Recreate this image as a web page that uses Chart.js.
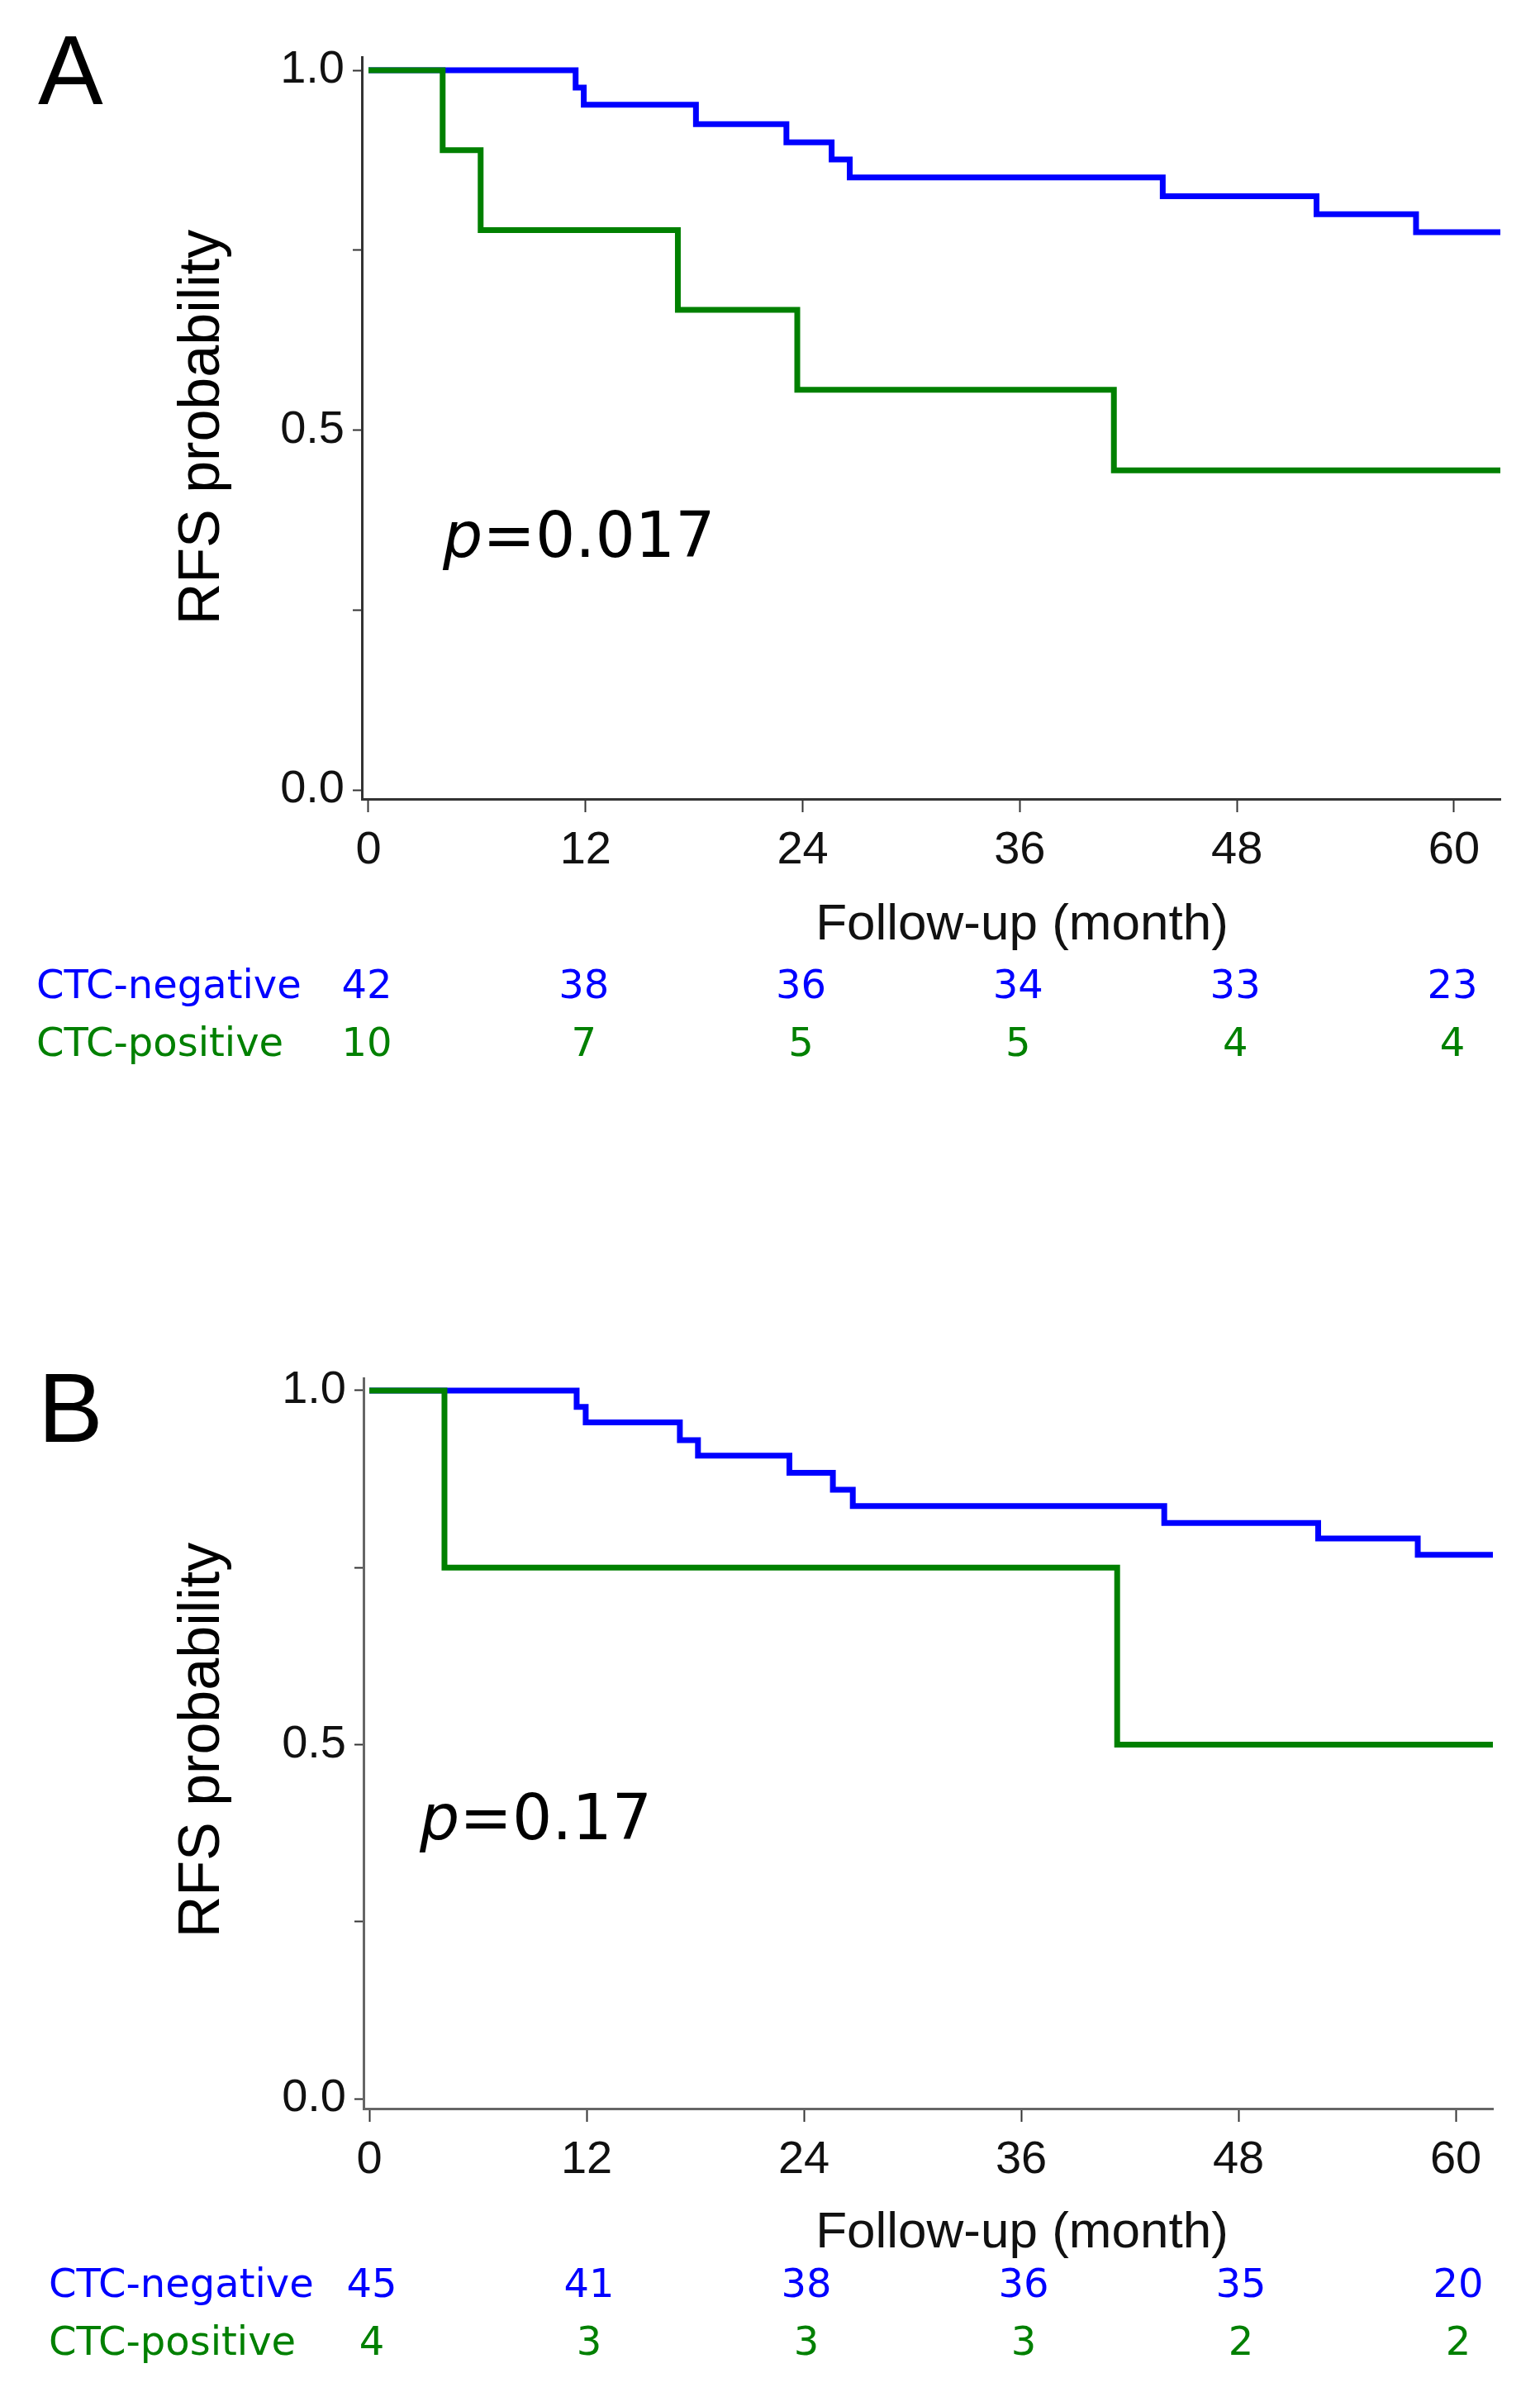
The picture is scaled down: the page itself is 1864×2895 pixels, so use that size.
<!DOCTYPE html>
<html>
<head>
<meta charset="utf-8">
<script src="https://cdn.jsdelivr.net/npm/chart.js@4.4.1/dist/chart.umd.min.js"></script>
<style>
  html, body { margin: 0; padding: 0; background: #fff; }
  #page { position: relative; width: 1864px; height: 2895px; }
  canvas { position: absolute; left: 0; }
</style>
</head>
<body>
<div id="page">
  <canvas id="km-a" width="1864" height="1448" style="top:0;width:1864px;height:1448px"></canvas>
  <canvas id="km-b" width="1864" height="1447" style="top:1448px;width:1864px;height:1447px"></canvas>
</div>
<script>
// --------------- data --------------- //

const xTicks = [0, 12, 24, 36, 48, 60];
const yTicks = [0, 0.25, 0.5, 0.75, 1];
const groupLabels = ['CTC-negative', 'CTC-positive'];

// panel A
const negTimesA = [0, 11.45, 11.9, 18.1, 23.1, 25.6, 26.6, 43.9, 52.4, 57.9, 62.6];
const negSurvA = [1, 0.976, 0.952, 0.925, 0.900, 0.876, 0.851, 0.825, 0.800, 0.775, 0.775];
const posTimesA = [0, 4.1, 6.2, 17.1, 23.7, 41.2, 62.6];
const posSurvA = [1, 0.889, 0.778, 0.667, 0.556, 0.444, 0.444];
const negAtRiskA = [42, 38, 36, 34, 33, 23];
const posAtRiskA = [10, 7, 5, 5, 4, 4];

// panel B
const negTimesB = [0, 11.45, 11.95, 17.15, 18.15, 23.2, 25.6, 26.7, 43.9, 52.4, 57.9, 62.1];
const negSurvB = [1, 0.977, 0.955, 0.930, 0.908, 0.884, 0.860, 0.837, 0.813, 0.791, 0.768, 0.768];
const posTimesB = [0, 4.15, 41.3, 62.1];
const posSurvB = [1, 0.75, 0.50, 0.50];
const negAtRiskB = [45, 41, 38, 36, 35, 20];
const posAtRiskB = [4, 3, 3, 3, 2, 2];

// --------------- helpers --------------- //

const BLUE = '#0000ff';
const GREEN = '#008000';
const SANS = '"Liberation Sans", Arial, sans-serif';
const VERDANA = '"DejaVu Sans", Verdana, sans-serif';

function toPoints(times, surv) {
  return times.map((t, i) => ({ x: t, y: surv[i] }));
}

// text around each plot: letter, y title, p value, x title, numbers at risk
const kmTextPlugin = {
  id: 'kmText',
  afterDraw(chart, args, opts) {
    const ctx = chart.ctx;
    const xScale = chart.scales.x;
    ctx.save();

    ctx.fillStyle = '#000';
    ctx.textAlign = 'left';
    ctx.textBaseline = 'alphabetic';
    ctx.font = '118px ' + SANS;
    ctx.fillText(opts.letter, 46, opts.letterY);

    ctx.save();
    ctx.translate(246, opts.yTitleY);
    ctx.rotate(-Math.PI / 2);
    ctx.textAlign = 'center';
    ctx.textBaseline = 'middle';
    ctx.font = '70px ' + SANS;
    ctx.fillText('RFS probability', 0, 0);
    ctx.restore();

    ctx.font = 'italic 76px ' + VERDANA;
    ctx.fillText('p', opts.pX, opts.pY);
    const pw = ctx.measureText('p').width;
    ctx.font = '76px ' + VERDANA;
    ctx.fillText('=' + opts.pValue, opts.pX + pw, opts.pY);

    ctx.fillStyle = '#111';
    ctx.textAlign = 'center';
    ctx.textBaseline = 'middle';
    ctx.font = '62px ' + SANS;
    ctx.fillText('Follow-up (month)', 1237, opts.xTitleY);

    const rows = [
      { label: groupLabels[0], values: opts.negAtRisk, color: BLUE, y: opts.rowY[0] },
      { label: groupLabels[1], values: opts.posAtRisk, color: GREEN, y: opts.rowY[1] },
    ];
    ctx.font = '48px ' + VERDANA;
    rows.forEach(row => {
      ctx.fillStyle = row.color;
      ctx.textAlign = 'left';
      ctx.fillText(row.label, opts.rowX, row.y);
      ctx.textAlign = 'center';
      row.values.forEach((v, i) => {
        ctx.fillText(String(v), xScale.getPixelForValue(xTicks[i]) + opts.numShift, row.y);
      });
    });

    ctx.restore();
  }
};

function makeConfig(p) {
  return {
    type: 'line',
    data: {
      datasets: [{
        label: groupLabels[1],
        data: toPoints(p.posTimes, p.posSurv),
        borderColor: GREEN,
        borderWidth: 7,
        stepped: 'before',
        pointRadius: 0,
        order: 0,
      }, {
        label: groupLabels[0],
        data: toPoints(p.negTimes, p.negSurv),
        borderColor: BLUE,
        borderWidth: 7,
        stepped: 'before',
        pointRadius: 0,
        order: 1,
      }]
    },
    plugins: [kmTextPlugin],
    options: {
      responsive: false,
      animation: false,
      devicePixelRatio: 1,
      layout: {
        padding: { top: p.padTop, right: p.padRight, left: 0, bottom: 0 }
      },
      plugins: {
        legend: { display: false },
        tooltip: { enabled: false },
        kmText: p.text,
      },
      scales: {
        x: {
          type: 'linear',
          min: p.xMin,
          max: p.xMax,
          afterBuildTicks: scale => { scale.ticks = xTicks.map(v => ({ value: v })); },
          afterFit: scale => { scale.height = p.xHeight; },
          grid: {
            drawOnChartArea: false,
            drawTicks: true,
            tickLength: 16,
            tickWidth: 2,
            tickColor: '#333',
          },
          border: { display: true, color: p.axisColor, width: 3 },
          ticks: {
            color: '#111',
            padding: 13,
            maxRotation: 0,
            font: { family: SANS, size: 56 },
          }
        },
        y: {
          type: 'linear',
          min: p.yMin,
          max: p.yMax,
          afterBuildTicks: scale => { scale.ticks = yTicks.map(v => ({ value: v })); },
          afterFit: scale => { scale.width = p.yWidth; },
          grid: {
            drawOnChartArea: false,
            drawTicks: true,
            tickLength: 11,
            tickWidth: 2,
            tickColor: '#333',
          },
          border: { display: true, color: p.axisColor, width: 3 },
          ticks: {
            color: '#111',
            padding: 10,
            font: { family: SANS, size: 56 },
            callback: v => (v === 0 || v === 0.5 || v === 1) ? v.toFixed(1) : '',
          }
        }
      }
    }
  };
}

// --------------- panel A --------------- //

const kmChartA = new Chart(document.getElementById('km-a'), makeConfig({
  negTimes: negTimesA, negSurv: negSurvA,
  posTimes: posTimesA, posSurv: posSurvA,
  xMin: -0.365, xMax: 62.56,
  yMin: -0.0126, yMax: 1.0184,
  padTop: 69, padRight: 48,
  yWidth: 438, xHeight: 481,
  axisColor: '#333',
  text: {
    letter: 'A', letterY: 126,
    yTitleY: 517,
    pValue: '0.017', pX: 536, pY: 674,
    xTitleY: 1120,
    rowX: 44, rowY: [1196, 1266],
    negAtRisk: negAtRiskA, posAtRisk: posAtRiskA,
    numShift: -2,
  }
}));

// --------------- panel B --------------- //

const kmChartB = new Chart(document.getElementById('km-b'), makeConfig({
  negTimes: negTimesB, negSurv: negSurvB,
  posTimes: posTimesB, posSurv: posSurvB,
  xMin: -0.32, xMax: 62.05,
  yMin: -0.014, yMax: 1.0175,
  padTop: 220, padRight: 57,
  yWidth: 440, xHeight: 343,
  axisColor: '#666',
  text: {
    letter: 'B', letterY: 297,
    yTitleY: 658,
    pValue: '0.17', pX: 508, pY: 778,
    xTitleY: 1255,
    rowX: 59, rowY: [1320, 1390],
    negAtRisk: negAtRiskB, posAtRisk: posAtRiskB,
    numShift: 3,
  }
}));
</script>
</body>
</html>
